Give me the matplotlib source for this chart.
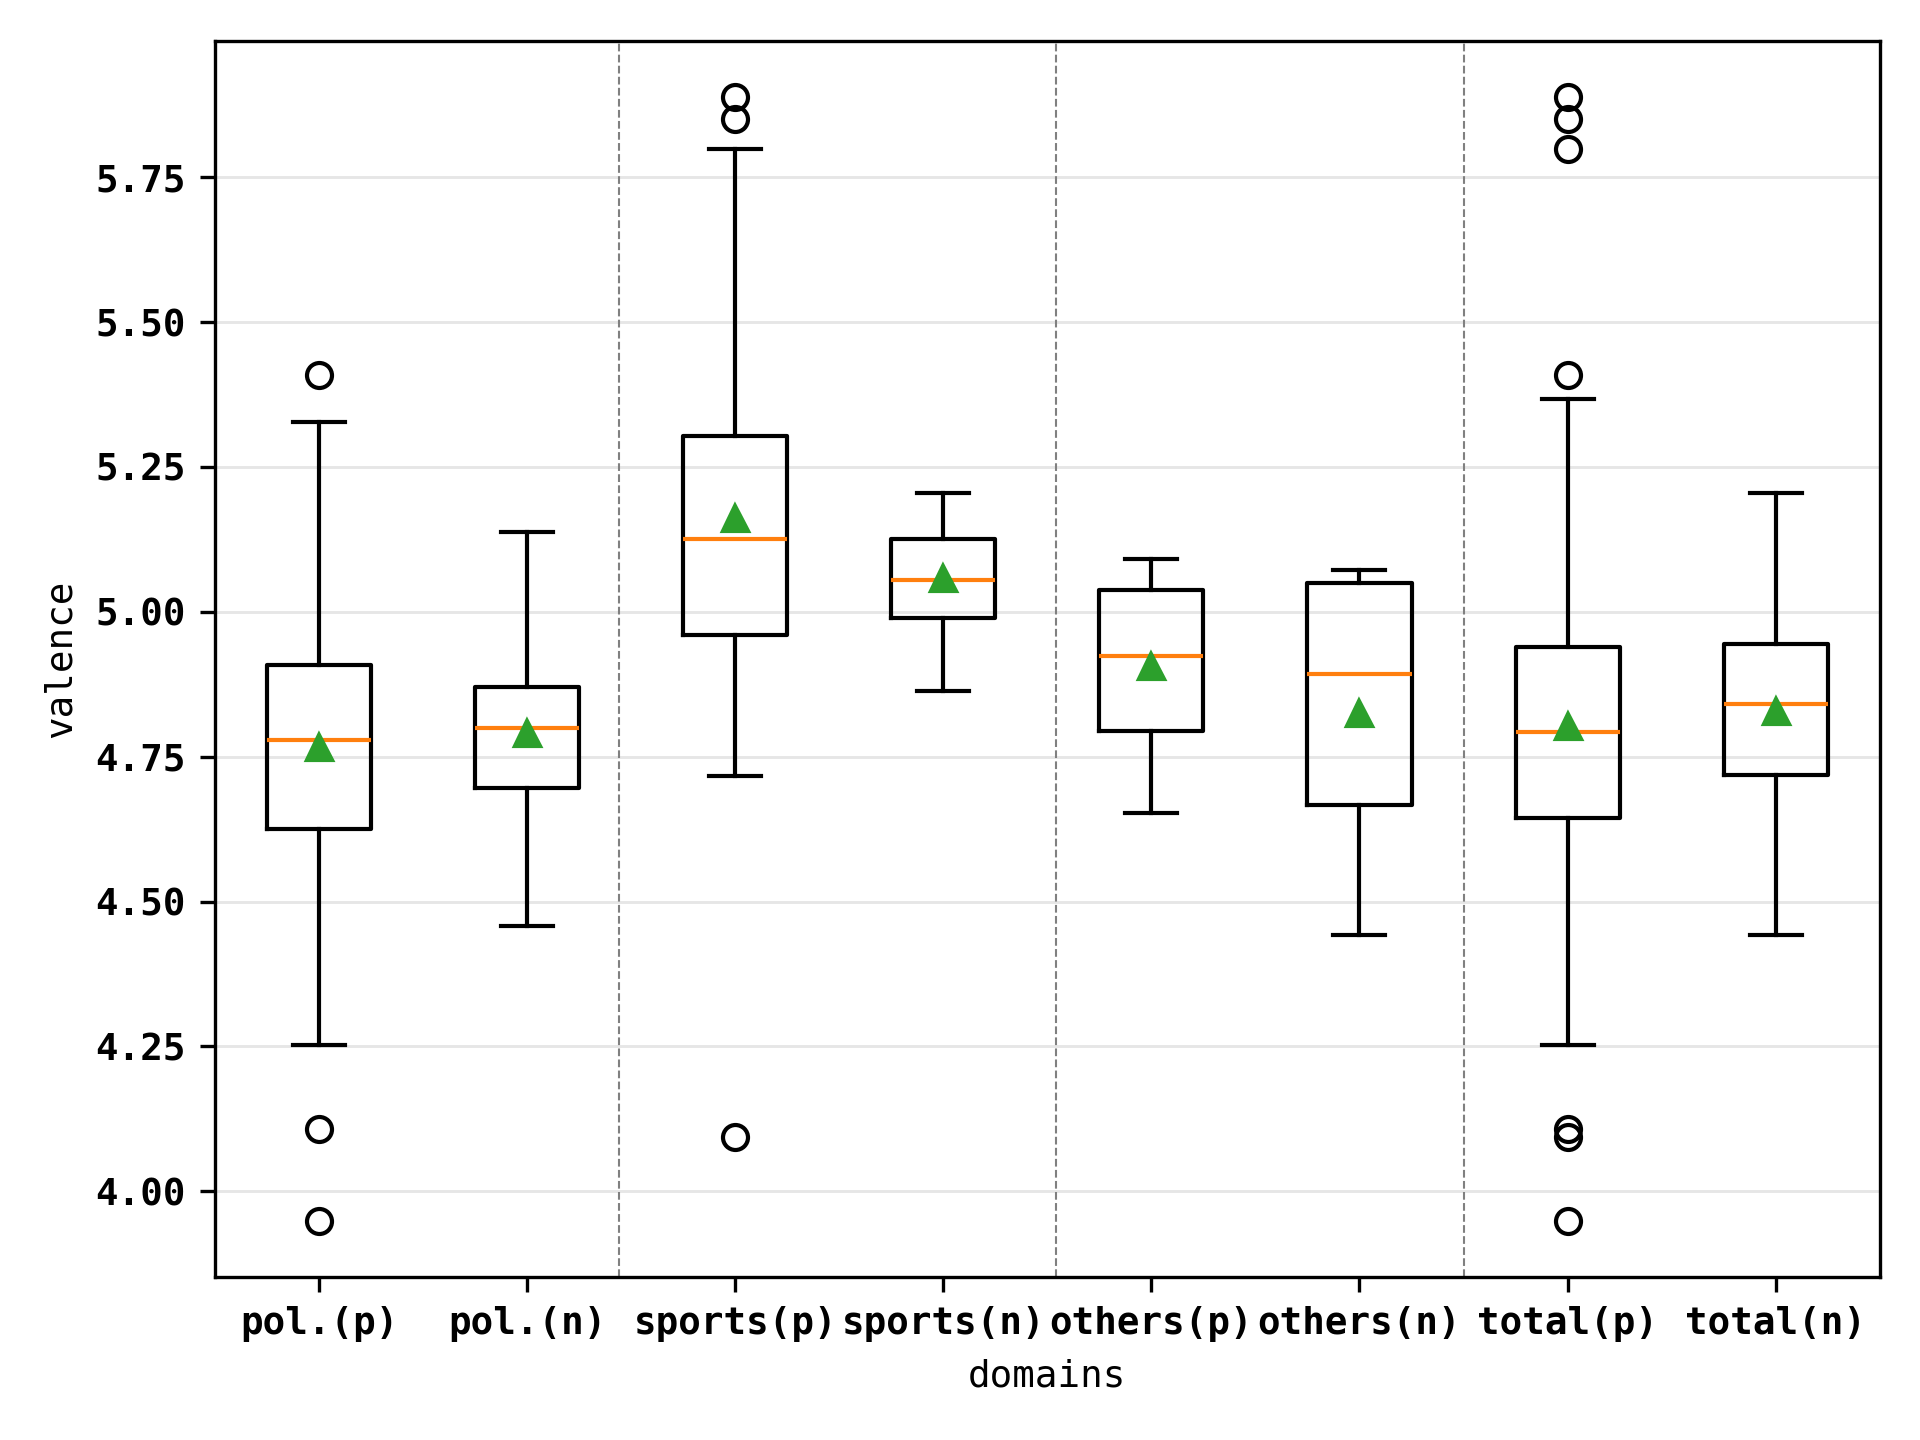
import matplotlib
matplotlib.use("Agg")
import matplotlib.pyplot as plt

plt.rcParams['font.family'] = ['DejaVu Sans Mono']
plt.rcParams['font.size'] = 9

# Box statistics
labels = ['pol.(p)', 'pol.(n)', 'sports(p)', 'sports(n)',
          'others(p)', 'others(n)', 'total(p)', 'total(n)']
whisker_low = [4.252, 4.457, 4.717, 4.863, 4.653, 4.442, 4.252, 4.442]
q1 = [4.626, 4.696, 4.960, 4.989, 4.795, 4.666, 4.645, 4.719]
medians = [4.778, 4.799, 5.125, 5.055, 4.924, 4.892, 4.793, 4.841]
q3 = [4.909, 4.871, 5.304, 5.125, 5.038, 5.049, 4.939, 4.945]
whisker_high = [5.328, 5.137, 5.799, 5.205, 5.091, 5.072, 5.368, 5.205]
means = [4.767, 4.790, 5.161, 5.059, 4.907, 4.825, 4.803, 4.829]
outliers = [
    [5.408, 4.108, 3.949],
    [],
    [5.888, 5.850, 4.093],
    [],
    [],
    [],
    [5.888, 5.850, 5.799, 5.408, 4.108, 4.093, 3.949],
    [],
]
separators = [2.44, 4.54, 6.5]

stats = []
for i, lab in enumerate(labels):
    stats.append({
        'label': lab,
        'whislo': whisker_low[i],
        'q1': q1[i],
        'med': medians[i],
        'q3': q3[i],
        'whishi': whisker_high[i],
        'mean': means[i],
        'fliers': outliers[i],
    })

fig = plt.figure(figsize=(6.4, 4.8), dpi=300)
ax = fig.add_axes([0.112, 0.1132, 0.867, 0.8583])

ax.bxp(stats, showmeans=True)

for x in separators:
    ax.axvline(x, color='grey', linestyle='--', linewidth=0.5)

ax.set_axisbelow(True)
ax.yaxis.grid(True, color='#e6e6e6', linewidth=0.7)
ax.set_yticks([4.00, 4.25, 4.50, 4.75, 5.00, 5.25, 5.50, 5.75])
ax.set_yticklabels(['4.00', '4.25', '4.50', '4.75', '5.00', '5.25', '5.50', '5.75'])
for t in ax.get_xticklabels() + ax.get_yticklabels():
    t.set_fontweight('bold')

ax.set_xlabel('domains')
ax.set_ylabel('valence')

fig.savefig('out.png', dpi=300)
